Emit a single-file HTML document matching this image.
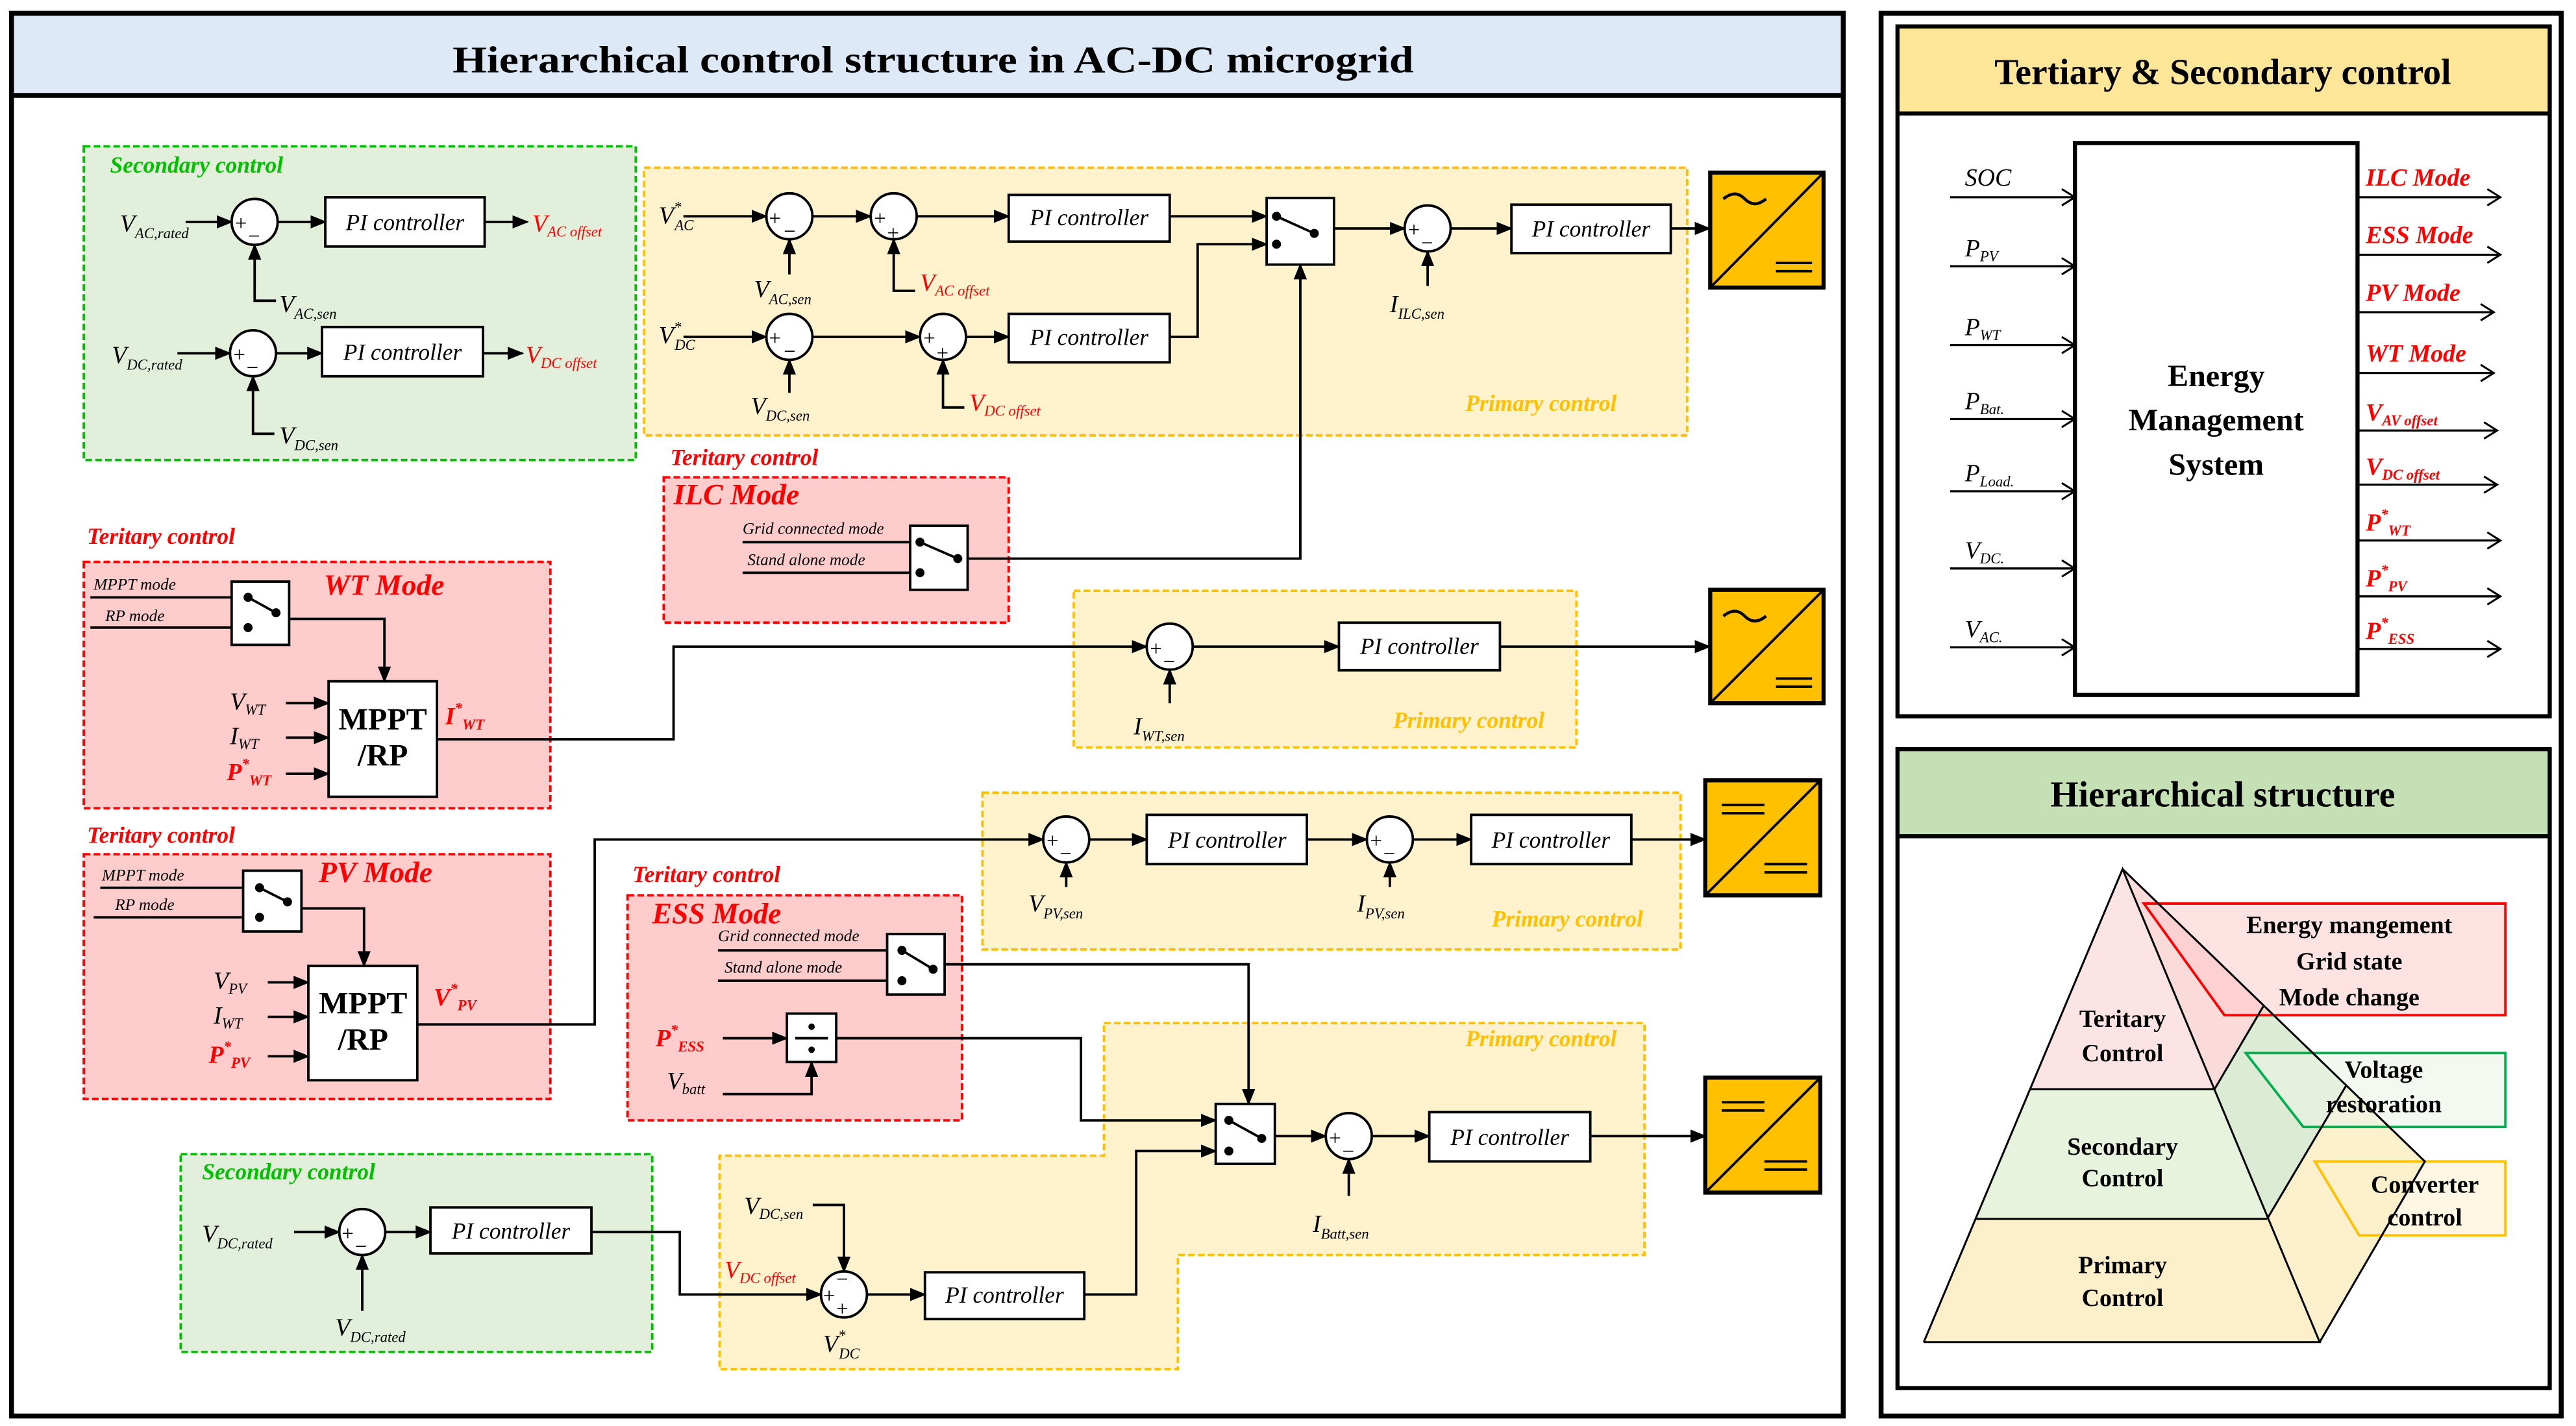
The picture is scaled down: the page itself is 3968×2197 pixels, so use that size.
<!DOCTYPE html>
<html><head><meta charset="utf-8"><style>
html,body{margin:0;padding:0;background:#fff}
svg{display:block}
text{font-family:"Liberation Serif",serif}
.l{font-style:italic;font-size:15px}
.s{font-size:9px}
.pi{font-style:italic;font-size:14px}
.r{fill:#ff0000}
.g{fill:#00c000}
.o{fill:#ffc000}
.t{font-style:italic;font-weight:bold;font-size:14px}
.m{font-style:italic;font-weight:bold;font-size:18px;fill:#ff0000}
.sm{font-style:italic;font-size:10px}
.b{font-weight:bold}
</style></head><body>
<svg width="3968" height="2197" viewBox="0 0 1568 868" xmlns="http://www.w3.org/2000/svg">
<defs>
<marker id="a" markerUnits="userSpaceOnUse" markerWidth="10" markerHeight="8" refX="9" refY="4" orient="auto"><path d="M0,0 L10,4 L0,8 z" fill="#000"/></marker>
<marker id="c" markerUnits="userSpaceOnUse" markerWidth="10" markerHeight="12" refX="9" refY="6" orient="auto"><path d="M1,1 L9,6 L1,11" fill="none" stroke="#000" stroke-width="1.2"/></marker>
</defs>
<rect width="1568" height="868" fill="#fff"/>
<rect x="7" y="8" width="1115" height="50" fill="#dde9f6"/>
<rect x="7" y="8" width="1115" height="854" fill="none" stroke="#000" stroke-width="3"/>
<line x1="7" y1="58" x2="1122" y2="58" stroke="#000" stroke-width="3"/>
<text x="568" y="44" text-anchor="middle" class="b" font-size="23" textLength="585" lengthAdjust="spacingAndGlyphs">Hierarchical control structure in AC-DC microgrid</text>

<g stroke="#000" stroke-width="1.5" fill="none">
<rect x="51" y="89" width="336" height="191" fill="#e2efda" stroke="#00c000" stroke-dasharray="4,2"/>
<rect x="392" y="102" width="635" height="163" fill="#fff2cc" stroke="#ffc000" stroke-dasharray="4,2"/>
<rect x="404" y="290.5" width="210" height="88.5" fill="#ffcccc" stroke="#ff0000" stroke-dasharray="4,2"/>
<rect x="51" y="342" width="284" height="150" fill="#ffcccc" stroke="#ff0000" stroke-dasharray="4,2"/>
<rect x="653.6" y="359.6" width="306" height="95.4" fill="#fff2cc" stroke="#ffc000" stroke-dasharray="4,2"/>
<rect x="51" y="520" width="284" height="149" fill="#ffcccc" stroke="#ff0000" stroke-dasharray="4,2"/>
<rect x="598" y="482.5" width="425" height="95.5" fill="#fff2cc" stroke="#ffc000" stroke-dasharray="4,2"/>
<rect x="382" y="545" width="203.6" height="137" fill="#ffcccc" stroke="#ff0000" stroke-dasharray="4,2"/>
<polygon points="672,622.8 1001,622.8 1001,764 717,764 717,833.5 438,833.5 438,703.5 672,703.5" fill="#fff2cc" stroke="#ffc000" stroke-dasharray="4,2"/>
<rect x="110" y="702.6" width="287" height="120.4" fill="#e2efda" stroke="#00c000" stroke-dasharray="4,2"/>
</g>

<text x="67" y="105" class="t g">Secondary control</text>
<text x="892" y="250" class="t o" font-weight="normal">Primary control</text>
<text x="408" y="283" class="t r" font-weight="normal">Teritary control</text>
<text x="410" y="307" class="m">ILC Mode</text>
<text x="53" y="331" class="t r" font-weight="normal">Teritary control</text>
<text x="197" y="362" class="m">WT Mode</text>
<text x="848" y="443" class="t o" font-weight="normal">Primary control</text>
<text x="53" y="513" class="t r" font-weight="normal">Teritary control</text>
<text x="194" y="537" class="m">PV Mode</text>
<text x="908" y="564" class="t o" font-weight="normal">Primary control</text>
<text x="385" y="537" class="t r" font-weight="normal">Teritary control</text>
<text x="397" y="562" class="m">ESS Mode</text>
<text x="892" y="637" class="t o" font-weight="normal">Primary control</text>
<text x="123" y="718" class="t g">Secondary control</text>

<g stroke="#000" stroke-width="1.5" fill="#fff">
<circle cx="155" cy="135" r="14"/><circle cx="154" cy="215" r="14"/>
<circle cx="480.5" cy="131.6" r="14"/><circle cx="544" cy="131.6" r="14"/><circle cx="869" cy="139" r="14"/>
<circle cx="480.5" cy="205" r="14"/><circle cx="574" cy="205" r="14"/>
<circle cx="712" cy="393.6" r="14"/>
<circle cx="649" cy="511" r="14"/><circle cx="846" cy="511" r="14"/>
<circle cx="821" cy="691.6" r="14"/><circle cx="513.7" cy="788" r="14"/><circle cx="220.5" cy="750" r="14"/>
<rect x="198" y="120" width="97" height="30"/><rect x="196" y="199" width="98" height="30"/>
<rect x="614" y="118.6" width="98" height="28.4"/><rect x="614" y="191" width="98" height="29.5"/>
<rect x="920" y="124.5" width="97" height="29.5"/>
<rect x="815" y="379" width="98" height="29"/>
<rect x="698" y="496" width="97.5" height="30"/><rect x="895.5" y="496" width="97.5" height="30"/>
<rect x="870" y="677" width="98" height="30"/><rect x="563" y="774.5" width="97" height="28.5"/>
<rect x="262" y="735" width="98" height="28"/>
<rect x="771" y="120.5" width="41" height="40.5"/>
<rect x="554" y="320" width="35" height="39"/>
<rect x="141" y="354" width="35" height="38.5"/>
<rect x="148" y="530" width="35.5" height="37"/>
<rect x="540" y="568.6" width="35" height="36.8"/>
<rect x="740" y="672" width="36" height="36.5"/>
<rect x="479" y="617" width="30" height="29.5"/>
<rect x="200" y="414.7" width="66" height="70.3"/>
<rect x="187.7" y="588" width="66.3" height="69.6"/>
</g>
<g stroke="#000" stroke-width="1.5" fill="#000">
<circle cx="777" cy="131.6" r="2"/><circle cx="777" cy="148.6" r="2"/><circle cx="800" cy="142" r="2"/><line x1="777" y1="131.6" x2="800" y2="142"/>
<circle cx="560" cy="330" r="2"/><circle cx="560" cy="348.6" r="2"/><circle cx="583" cy="340" r="2"/><line x1="560" y1="330" x2="583" y2="340"/>
<circle cx="151" cy="363.6" r="2"/><circle cx="151" cy="382" r="2"/><circle cx="168" cy="373" r="2"/><line x1="151" y1="363.6" x2="168" y2="373"/>
<circle cx="158" cy="540.4" r="2"/><circle cx="158" cy="558.4" r="2"/><circle cx="175" cy="549" r="2"/><line x1="158" y1="540.4" x2="175" y2="549"/>
<circle cx="549" cy="578.5" r="2"/><circle cx="549" cy="597" r="2"/><circle cx="568" cy="590" r="2"/><line x1="549" y1="578.5" x2="568" y2="590"/>
<circle cx="748" cy="682" r="2"/><circle cx="748" cy="700.7" r="2"/><circle cx="768" cy="693" r="2"/><line x1="748" y1="682" x2="768" y2="693"/>
<line x1="484" y1="632" x2="504" y2="632"/><circle cx="494" cy="625" r="1.2"/><circle cx="494" cy="639" r="1.2"/>
</g>

<g stroke="#000" stroke-width="1.5" fill="none" marker-end="url(#a)">
<line x1="113" y1="135" x2="141" y2="135"/><line x1="169" y1="135" x2="198" y2="135"/><line x1="295" y1="135" x2="321" y2="135"/>
<path d="M168,183 H155 V149"/>
<line x1="108" y1="215" x2="140" y2="215"/><line x1="168" y1="215" x2="196" y2="215"/><line x1="294" y1="215" x2="318" y2="215"/>
<path d="M167,264 H154 V229"/>
<line x1="416" y1="131.6" x2="466.5" y2="131.6"/><line x1="494.5" y1="131.6" x2="530" y2="131.6"/><line x1="558" y1="131.6" x2="614" y2="131.6"/>
<line x1="712" y1="131.6" x2="771" y2="131.6"/><line x1="812" y1="139" x2="855" y2="139"/><line x1="883" y1="139" x2="920" y2="139"/><line x1="1017" y1="139" x2="1040.6" y2="139"/>
<path d="M480.5,167 V145.6"/><path d="M557,177 H544 V145.6"/>
<line x1="416" y1="205" x2="466.5" y2="205"/><line x1="494.5" y1="205" x2="560" y2="205"/><line x1="588" y1="205" x2="614" y2="205"/>
<path d="M712,205 H729 V148.6 H771"/>
<path d="M480.5,239 V219"/><path d="M587,248 H574 V219"/>
<path d="M589,340 H791.5 V161"/>
<path d="M869,174 V153"/>
<path d="M176,376.7 H234 V414.7"/>
<line x1="174" y1="428" x2="200" y2="428"/><line x1="174" y1="449" x2="200" y2="449"/><line x1="174" y1="471" x2="200" y2="471"/>
<path d="M266,450 H410 V393.6 H698"/>
<line x1="726" y1="393.6" x2="815" y2="393.6"/><line x1="913" y1="393.6" x2="1040.6" y2="393.6"/>
<path d="M712,428 V407.6"/>
<path d="M183.5,553 H221.6 V588"/>
<line x1="163" y1="598" x2="187.7" y2="598"/><line x1="163" y1="619" x2="187.7" y2="619"/><line x1="163" y1="643" x2="187.7" y2="643"/>
<path d="M254,623.6 H362 V511 H635"/>
<line x1="663" y1="511" x2="698" y2="511"/><line x1="795.5" y1="511" x2="832" y2="511"/><line x1="860" y1="511" x2="895.5" y2="511"/><line x1="993" y1="511" x2="1038" y2="511"/>
<path d="M649,540 V525"/><path d="M846,540 V525"/>
<path d="M575,587 H760 V672"/>
<line x1="440" y1="632" x2="479" y2="632"/>
<path d="M440,666 H494 V646.5"/>
<path d="M509,632 H658 V682 H740"/>
<line x1="776" y1="691.6" x2="807" y2="691.6"/><line x1="835" y1="691.6" x2="870" y2="691.6"/><line x1="968" y1="691.6" x2="1038" y2="691.6"/>
<path d="M821,728 V705.6"/>
<path d="M494.7,733.5 H513.7 V774"/>
<path d="M360,750 H413.8 V788 H499.7"/>
<line x1="527.7" y1="788" x2="563" y2="788"/>
<path d="M660,788 H691.6 V700.7 H740"/>
<line x1="179" y1="750" x2="206.5" y2="750"/><line x1="234.5" y1="750" x2="262" y2="750"/>
<path d="M220.5,798 V764"/>
</g>
<g stroke="#000" stroke-width="1.5">
<line x1="452" y1="330" x2="554" y2="330"/><line x1="452" y1="348.6" x2="554" y2="348.6"/>
<line x1="55" y1="363.6" x2="141" y2="363.6"/><line x1="55" y1="382" x2="141" y2="382"/>
<line x1="61" y1="540.4" x2="148" y2="540.4"/><line x1="57" y1="558.4" x2="148" y2="558.4"/>
<line x1="437" y1="578.5" x2="540" y2="578.5"/><line x1="437" y1="597" x2="540" y2="597"/>
</g>

<g font-size="13" font-family="Liberation Sans">
<text x="143" y="140">+</text><text x="151" y="148">−</text>
<text x="142" y="220">+</text><text x="150" y="228">−</text>
<text x="468" y="137">+</text><text x="477" y="145">−</text>
<text x="532" y="137">+</text><text x="540" y="146">+</text>
<text x="857" y="144">+</text><text x="865" y="152">−</text>
<text x="468" y="210">+</text><text x="477" y="218">−</text>
<text x="562" y="210">+</text><text x="570" y="219">+</text>
<text x="700" y="399">+</text><text x="708" y="407">−</text>
<text x="637" y="516">+</text><text x="645" y="524">−</text>
<text x="834" y="516">+</text><text x="842" y="524">−</text>
<text x="809" y="697">+</text><text x="817" y="705">−</text>
<text x="501" y="793">+</text><text x="509" y="801">+</text><text x="509" y="783">−</text>
<text x="208" y="755">+</text><text x="216" y="763">−</text>
</g>

<g class="pi" text-anchor="middle">
<text x="246.5" y="140">PI controller</text><text x="245" y="219">PI controller</text>
<text x="663" y="137">PI controller</text><text x="663" y="210">PI controller</text><text x="968.5" y="144">PI controller</text>
<text x="864" y="398">PI controller</text>
<text x="747" y="516">PI controller</text><text x="944" y="516">PI controller</text>
<text x="919" y="697">PI controller</text><text x="611.5" y="793">PI controller</text>
<text x="311" y="754">PI controller</text>
</g>
<g class="b" font-size="19" text-anchor="middle">
<text x="233" y="444">MPPT</text><text x="233" y="466">/RP</text>
<text x="221" y="617">MPPT</text><text x="221" y="639">/RP</text>
</g>

<text x="73" y="141" class="l">V<tspan class="s" dy="4">AC,rated</tspan></text>
<text x="324" y="141" class="l r">V<tspan class="s" dy="3">AC offset</tspan></text>
<text x="170" y="190" class="l">V<tspan class="s" dy="4">AC,sen</tspan></text>
<text x="68" y="221" class="l">V<tspan class="s" dy="4">DC,rated</tspan></text>
<text x="320" y="221" class="l r">V<tspan class="s" dy="3">DC offset</tspan></text>
<text x="170" y="270" class="l">V<tspan class="s" dy="4">DC,sen</tspan></text>
<text x="401" y="136" class="l">V<tspan class="s" dy="-7">*</tspan><tspan class="s" dx="-4" dy="11">AC</tspan></text>
<text x="401" y="209" class="l">V<tspan class="s" dy="-7">*</tspan><tspan class="s" dx="-4" dy="11">DC</tspan></text>
<text x="459" y="181" class="l">V<tspan class="s" dy="4">AC,sen</tspan></text>
<text x="560" y="177" class="l r">V<tspan class="s" dy="3">AC offset</tspan></text>
<text x="457" y="252" class="l">V<tspan class="s" dy="4">DC,sen</tspan></text>
<text x="590" y="250" class="l r">V<tspan class="s" dy="3">DC offset</tspan></text>
<text x="846" y="190" class="l">I<tspan class="s" dy="4">ILC,sen</tspan></text>
<text x="452" y="325" class="sm">Grid connected mode</text>
<text x="455" y="344" class="sm">Stand alone mode</text>
<text x="57" y="359" class="sm">MPPT mode</text>
<text x="64" y="378" class="sm">RP  mode</text>
<text x="140" y="432" class="l">V<tspan class="s" dy="3">WT</tspan></text>
<text x="140" y="453" class="l">I<tspan class="s" dy="3">WT</tspan></text>
<text x="138" y="475" class="l r b">P<tspan class="s" dy="-7">*</tspan><tspan class="s" dy="10">WT</tspan></text>
<text x="271" y="441" class="l r b">I<tspan class="s" dy="-7">*</tspan><tspan class="s" dy="10">WT</tspan></text>
<text x="690" y="447" class="l">I<tspan class="s" dy="4">WT,sen</tspan></text>
<text x="62" y="536" class="sm">MPPT mode</text>
<text x="70" y="554" class="sm">RP  mode</text>
<text x="130" y="602" class="l">V<tspan class="s" dy="3">PV</tspan></text>
<text x="130" y="623" class="l">I<tspan class="s" dy="3">WT</tspan></text>
<text x="127" y="647" class="l r b">P<tspan class="s" dy="-7">*</tspan><tspan class="s" dy="10">PV</tspan></text>
<text x="264" y="612" class="l r b">V<tspan class="s" dy="-7">*</tspan><tspan class="s" dy="10">PV</tspan></text>
<text x="626" y="555" class="l">V<tspan class="s" dy="4">PV,sen</tspan></text>
<text x="826" y="555" class="l">I<tspan class="s" dy="4">PV,sen</tspan></text>
<text x="437" y="573" class="sm">Grid connected mode</text>
<text x="441" y="592" class="sm">Stand alone  mode</text>
<text x="399" y="637" class="l r b">P<tspan class="s" dy="-7">*</tspan><tspan class="s" dy="10">ESS</tspan></text>
<text x="406" y="663" class="l">V<tspan class="s" dy="3">batt</tspan></text>
<text x="799" y="750" class="l">I<tspan class="s" dy="4">Batt,sen</tspan></text>
<text x="453" y="739" class="l">V<tspan class="s" dy="3">DC,sen</tspan></text>
<text x="441" y="778" class="l r">V<tspan class="s" dy="3">DC offset</tspan></text>
<text x="501" y="823" class="l">V<tspan class="s" dy="-7">*</tspan><tspan class="s" dx="-4" dy="11">DC</tspan></text>
<text x="123" y="756" class="l">V<tspan class="s" dy="4">DC,rated</tspan></text>
<text x="204" y="813" class="l">V<tspan class="s" dy="4">DC,rated</tspan></text>

<g stroke="#000" stroke-width="1.5">
<g transform="translate(1041,105)"><rect width="69" height="70" fill="#ffc000" stroke-width="2.5"/><line x1="0" y1="70" x2="69" y2="0"/><path d="M8,16 C13,12 17,12 21,16 S29,20 34,16" fill="none" stroke-width="1.8"/><line x1="40" y1="55" x2="62" y2="55"/><line x1="40" y1="60" x2="62" y2="60"/></g>
<g transform="translate(1041,359)"><rect width="69" height="69" fill="#ffc000" stroke-width="2.5"/><line x1="0" y1="69" x2="69" y2="0"/><path d="M8,16 C13,12 17,12 21,16 S29,20 34,16" fill="none" stroke-width="1.8"/><line x1="40" y1="54" x2="62" y2="54"/><line x1="40" y1="59" x2="62" y2="59"/></g>
<g transform="translate(1038,475)"><rect width="70" height="70" fill="#ffc000" stroke-width="2.5"/><line x1="0" y1="70" x2="70" y2="0"/><line x1="10" y1="15" x2="36" y2="15"/><line x1="10" y1="20" x2="36" y2="20"/><line x1="36" y1="51" x2="62" y2="51"/><line x1="36" y1="56" x2="62" y2="56"/></g>
<g transform="translate(1038,656)"><rect width="70" height="70" fill="#ffc000" stroke-width="2.5"/><line x1="0" y1="70" x2="70" y2="0"/><line x1="10" y1="15" x2="36" y2="15"/><line x1="10" y1="20" x2="36" y2="20"/><line x1="36" y1="51" x2="62" y2="51"/><line x1="36" y1="56" x2="62" y2="56"/></g>
</g>

<rect x="1145" y="8" width="414" height="854" fill="none" stroke="#000" stroke-width="3"/>
<rect x="1155" y="16" width="397" height="53" fill="#ffe699"/>
<rect x="1155" y="16" width="397" height="420" fill="none" stroke="#000" stroke-width="2.5"/>
<line x1="1155" y1="69" x2="1552" y2="69" stroke="#000" stroke-width="2.5"/>
<text x="1353" y="51" text-anchor="middle" class="b" font-size="22">Tertiary &amp; Secondary control</text>
<rect x="1263" y="87" width="172" height="336" fill="#fff" stroke="#000" stroke-width="2.5"/>
<g class="b" font-size="19" text-anchor="middle"><text x="1349" y="235">Energy</text><text x="1349" y="262">Management</text><text x="1349" y="289">System</text></g>
<g stroke="#000" stroke-width="1.3" marker-end="url(#c)">
<line x1="1187" y1="120" x2="1263" y2="120"/><line x1="1187" y1="162" x2="1263" y2="162"/><line x1="1187" y1="210" x2="1263" y2="210"/>
<line x1="1187" y1="255" x2="1263" y2="255"/><line x1="1187" y1="299" x2="1263" y2="299"/><line x1="1187" y1="346" x2="1263" y2="346"/><line x1="1187" y1="394" x2="1263" y2="394"/>
<line x1="1435" y1="120" x2="1522" y2="120"/><line x1="1435" y1="155" x2="1522" y2="155"/><line x1="1435" y1="190" x2="1518" y2="190"/><line x1="1435" y1="227" x2="1518" y2="227"/>
<line x1="1435" y1="262" x2="1520" y2="262"/><line x1="1435" y1="295" x2="1520" y2="295"/><line x1="1435" y1="329" x2="1522" y2="329"/><line x1="1435" y1="363" x2="1522" y2="363"/><line x1="1435" y1="395" x2="1522" y2="395"/>
</g>
<text x="1196" y="113" class="l">SOC</text>
<text x="1196" y="156" class="l">P<tspan class="s" dy="3">PV</tspan></text>
<text x="1196" y="204" class="l">P<tspan class="s" dy="3">WT</tspan></text>
<text x="1196" y="249" class="l">P<tspan class="s" dy="3">Bat.</tspan></text>
<text x="1196" y="293" class="l">P<tspan class="s" dy="3">Load.</tspan></text>
<text x="1196" y="340" class="l">V<tspan class="s" dy="3">DC.</tspan></text>
<text x="1196" y="388" class="l">V<tspan class="s" dy="3">AC.</tspan></text>
<g class="l r b" font-size="15">
<text x="1440" y="113">ILC Mode</text><text x="1440" y="148">ESS Mode</text><text x="1440" y="183">PV Mode</text><text x="1440" y="220">WT Mode</text>
<text x="1440" y="256">V<tspan class="s" dy="3">AV offset</tspan></text>
<text x="1440" y="289">V<tspan class="s" dy="3">DC offset</tspan></text>
<text x="1440" y="323">P<tspan class="s" dy="-7">*</tspan><tspan class="s" dy="10">WT</tspan></text>
<text x="1440" y="357">P<tspan class="s" dy="-7">*</tspan><tspan class="s" dy="10">PV</tspan></text>
<text x="1440" y="389">P<tspan class="s" dy="-7">*</tspan><tspan class="s" dy="10">ESS</tspan></text>
</g>

<rect x="1155" y="456" width="397" height="53" fill="#c5e0b4"/>
<rect x="1155" y="456" width="397" height="389" fill="none" stroke="#000" stroke-width="2.5"/>
<line x1="1155" y1="509" x2="1552" y2="509" stroke="#000" stroke-width="2.5"/>
<text x="1353" y="491" text-anchor="middle" class="b" font-size="22">Hierarchical structure</text>
<g stroke="none">
<polygon points="1292,529 1236,663 1348,663" fill="#fde4e4"/>
<polygon points="1292,529 1348,663 1378,612" fill="#fbdada"/>
<polygon points="1236,663 1348,663 1380,742 1202,742" fill="#e8f3de"/>
<polygon points="1348,663 1378,612 1428,661 1380,742" fill="#dcebd3"/>
<polygon points="1202,742 1380,742 1412,817 1171,817" fill="#fdefc9"/>
<polygon points="1380,742 1428,661 1476,707 1412,817" fill="#fdf0cc"/>
</g>
<polygon points="1305,550 1525,550 1525,618 1354,618" fill="rgba(255,200,200,0.5)" stroke="#ff0000" stroke-width="1.5"/>
<polygon points="1367,641 1525,641 1525,686 1402,686" fill="rgba(235,245,230,0.6)" stroke="#00b050" stroke-width="1.5"/>
<polygon points="1409,707 1525,707 1525,752 1436,752" fill="rgba(255,240,200,0.5)" stroke="#ffc000" stroke-width="1.5"/>
<g stroke="#000" stroke-width="1.2" fill="none">
<polyline points="1171,817 1292,529 1412,817 1171,817"/>
<polyline points="1292,529 1476,707 1412,817"/>
<line x1="1236" y1="663" x2="1348" y2="663"/><line x1="1348" y1="663" x2="1378" y2="612"/>
<line x1="1202" y1="742" x2="1380" y2="742"/><line x1="1380" y1="742" x2="1428" y2="661"/>
</g>
<g class="b" font-size="15" text-anchor="middle">
<text x="1292" y="625">Teritary</text><text x="1292" y="646">Control</text>
<text x="1292" y="703">Secondary</text><text x="1292" y="722">Control</text>
<text x="1292" y="775">Primary</text><text x="1292" y="795">Control</text>
<text x="1430" y="568">Energy mangement</text><text x="1430" y="590">Grid state</text><text x="1430" y="612">Mode change</text>
<text x="1451" y="656">Voltage</text><text x="1451" y="677">restoration</text>
<text x="1476" y="726">Converter</text><text x="1476" y="746">control</text>
</g>
</svg>
</body></html>
